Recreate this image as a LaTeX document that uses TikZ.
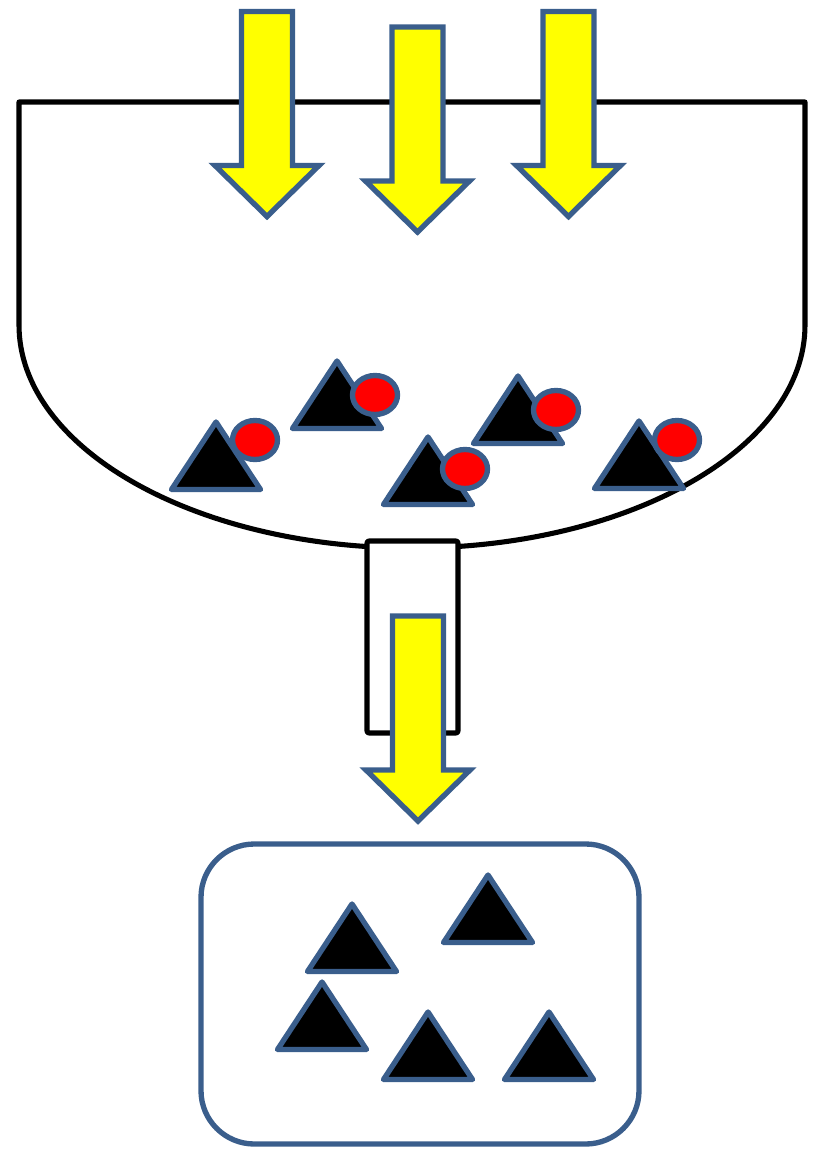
\documentclass[tikz,border=0pt]{standalone}
\begin{document}
\begin{tikzpicture}[x=0.75pt,y=-0.75pt]
\definecolor{edgeblue}{RGB}{58,94,140}
\definecolor{flowyellow}{RGB}{255,255,0}
\tikzset{
  funnelline/.style={draw=black,line width=3.8pt,line join=round},
  bluedge/.style={draw=edgeblue,line width=4pt},
  flowarrow/.pic={
    \path[bluedge,fill=flowyellow,line join=miter]
      (-25.5,0) -- (25.5,0) -- (25.5,154) -- (52,154) -- (0,205)
      -- (-52,154) -- (-25.5,154) -- cycle;
  },
  particle/.pic={
    \path[bluedge,fill=black,line join=round]
      (0,0) -- (44.5,67.5) -- (-44.5,67.5) -- cycle;
  },
  ball/.style={bluedge,fill=red},
}
\useasboundingbox (0,0) rectangle (818,1153);

% funnel bowl
\path[funnelline,fill=white] (19,102) -- (805,102) -- (805,325)
  arc[start angle=0,end angle=180,x radius=393,y radius=223] -- cycle;
% funnel neck
\path[funnelline,fill=white,rounded corners=1.5pt] (367,541) rectangle (458,733);

% particles with attached balls inside the bowl
\foreach \ax/\ay/\cx/\cy in {216/422/255/440, 337/361/375/395, 428/437/465/469,
                              518/376/556/410, 639/421/677/440}{
  \pic at (\ax,\ay) {particle};
  \path[ball] (\cx,\cy) ellipse[x radius=22.5,y radius=19.5];
}

% incoming arrows
\pic at (267,11.5) {flowarrow};
\pic at (417.5,27) {flowarrow};
\pic at (568.5,11.5) {flowarrow};
% outgoing arrow through the neck
\pic at (418,616) {flowarrow};

% collection box with separated particles
\path[bluedge,rounded corners=40pt] (201,844) rectangle (639,1144);
\foreach \ax/\ay in {352/904, 488/875, 322/982, 428/1012, 549/1012}{
  \pic at (\ax,\ay) {particle};
}
\end{tikzpicture}
\end{document}
